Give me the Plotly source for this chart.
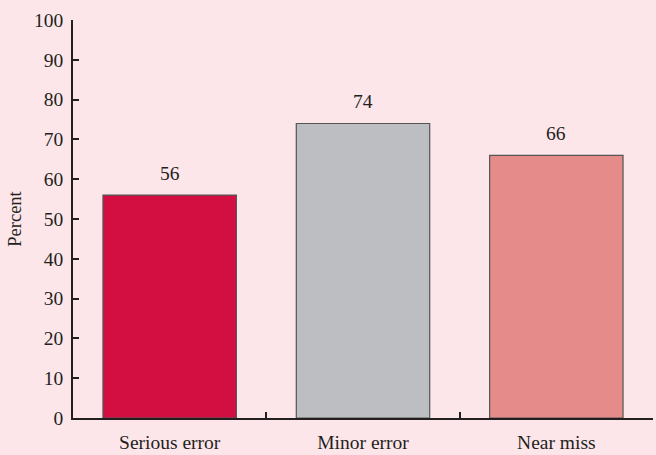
import plotly.graph_objects as go

categories = ["Serious error", "Minor error", "Near miss"]
percent = [56, 74, 66]
bar_colors = ["#D20F40", "#BDBEC2", "#E58B89"]
y_ticks = [0, 10, 20, 30, 40, 50, 60, 70, 80, 90, 100]

BG = "#FCE6EA"
INK = "#231F20"
FONT = "Liberation Serif, Times New Roman, serif"
FS = 19.5

fig = go.Figure(
    go.Bar(
        x=categories,
        y=percent,
        width=0.69,
        marker=dict(color=bar_colors, line=dict(color="#555555", width=1.2)),
        hoverinfo="skip",
    )
)

# value labels above each bar
for cat, val in zip(categories, percent):
    fig.add_annotation(
        x=cat, y=val, text=str(val), showarrow=False,
        yanchor="bottom", yshift=9,
        font=dict(family=FONT, size=FS, color=INK),
    )

fig.update_layout(
    width=656, height=455,
    margin=dict(l=73, r=3, t=20, b=37),
    paper_bgcolor=BG, plot_bgcolor=BG,
    font=dict(family=FONT, size=FS, color=INK),
    showlegend=False,
    bargap=0.31,
)

fig.update_xaxes(
    type="category",
    range=[-0.5, 2.5],
    showline=True, linecolor=INK, linewidth=2,
    ticks="inside", tickson="boundaries", ticklen=6, tickcolor=INK, tickwidth=1.5,
    ticklabelstandoff=6,
    showgrid=False, zeroline=False,
    tickfont=dict(family=FONT, size=FS, color=INK),
)

fig.update_yaxes(
    range=[0, 100],
    tickvals=y_ticks,
    showline=True, linecolor=INK, linewidth=1.5,
    ticks="inside", ticklen=6, tickcolor=INK, tickwidth=1.5,
    ticklabelstandoff=4,
    showgrid=False, zeroline=False,
    title=dict(text="Percent", font=dict(family=FONT, size=FS - 1, color=INK), standoff=8),
    tickfont=dict(family=FONT, size=FS, color=INK),
)

fig.write_html("out.html")
